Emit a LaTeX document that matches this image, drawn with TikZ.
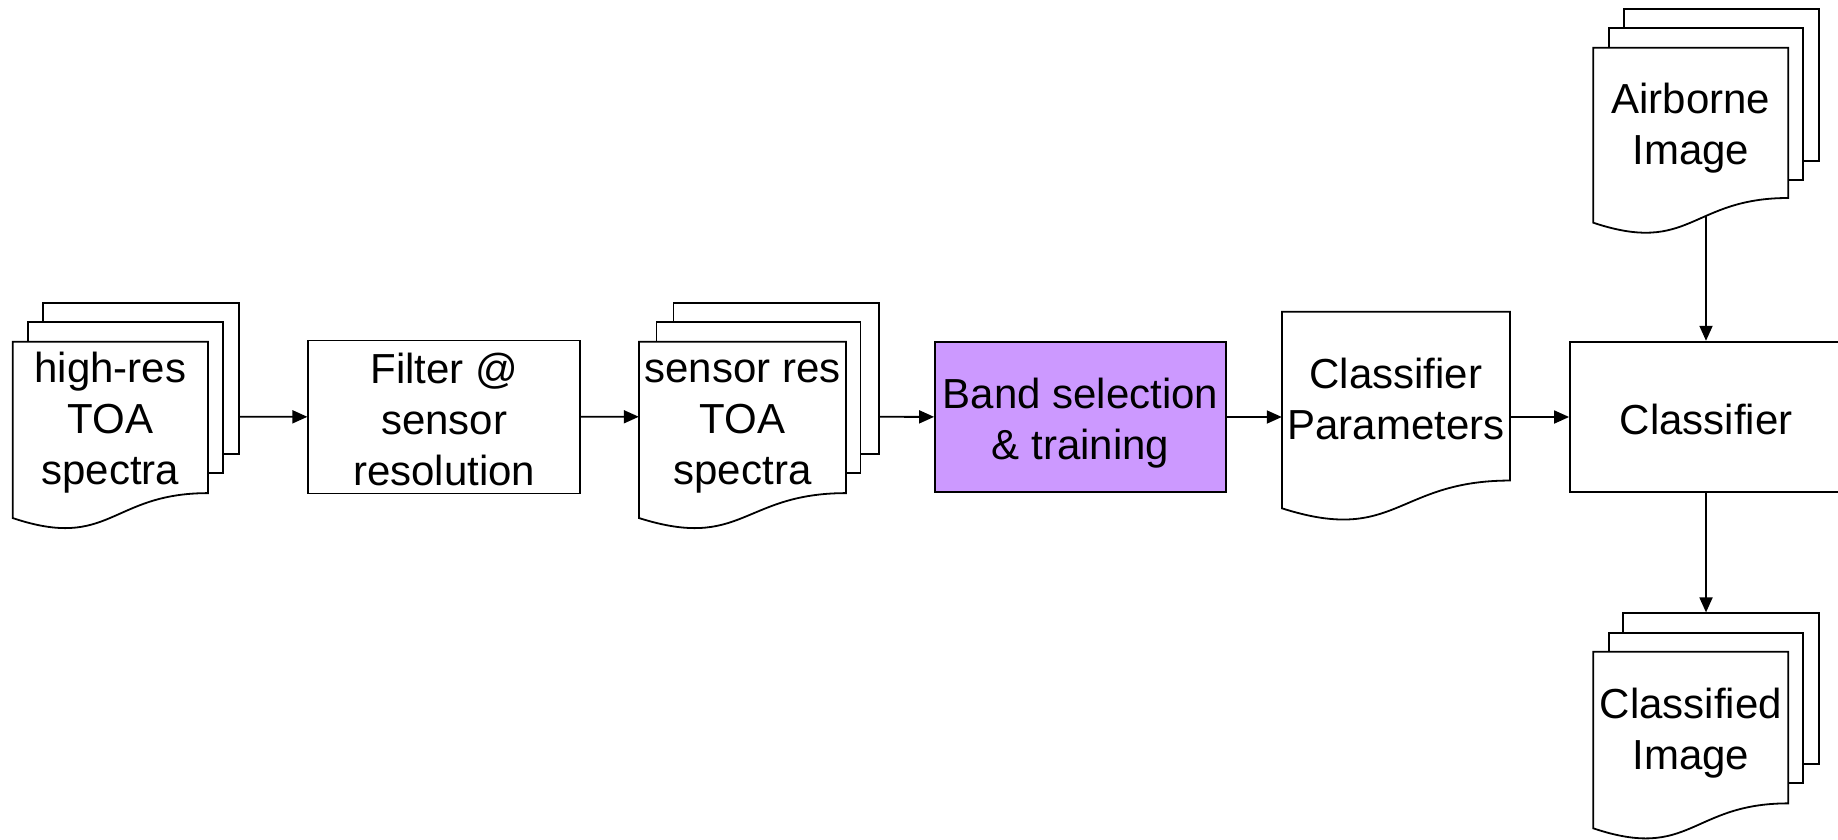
\documentclass[tikz,border=0pt]{standalone}
\usepackage{fontspec}
\setmainfont{Liberation Sans}
\usetikzlibrary{arrows.meta}
\pgfdeclarelayer{links}
\pgfsetlayers{links,main}

\definecolor{bandfill}{HTML}{CC99FF}

% line box of the labels: 51pt per line
\newcommand\linebox{\rule[-8pt]{0pt}{51pt}}

\tikzset{
  labelfont/.style={align=center, font=\fontsize{42}{51}\selectfont,
    execute at end node=\linebox},
  outline/.style={draw=black, line width=1.8pt, fill=white},
  sheet/.style={outline, rectangle, inner sep=0pt},
  box/.style={outline, rectangle, inner sep=0pt, labelfont},
  caption/.style={rectangle, inner sep=0pt, labelfont},
  arr/.style={line width=1.8pt, -{Triangle[length=15pt,width=13pt]}}
}

% front page of a document symbol: left, top, width, height
\newcommand\docfront[4]{%
  \begin{scope}[shift={(#1,#2)}]
    \filldraw[outline] (0,0) -- (#3,0) -- (#3,{0.802*#4})
      .. controls ({0.5*#3},{0.802*#4}) and ({0.5*#3},{1.1075*#4}) .. (0,{0.934*#4}) -- cycle;
  \end{scope}}

\begin{document}
\begin{tikzpicture}[x=1pt, y=-1pt]
\useasboundingbox (0,0) rectangle (1838,840);

% high-res TOA spectra (stack of pages)
\node[sheet, minimum width=195.4pt, minimum height=151pt] (hr3) at (141,378.8) {};
\node[sheet, minimum width=194.4pt, minimum height=150.4pt] (hr2) at (125.5,397.5) {};
\docfront{12.7}{341.7}{195.3}{188.8}
\node[caption, minimum width=195.3pt, minimum height=150pt] (hr) at (110.3,416.7) {\linebox high-res\\TOA\\spectra};

% filter
\node[box, minimum width=271.9pt, minimum height=150.8pt] (flt) at (444.25,416.9) {\linebox Filter @\\sensor\\resolution};

% sensor res TOA spectra (stack of pages)
\node[sheet, minimum width=205.6pt, minimum height=151pt] (sr3) at (776.2,378.8) {};
\node[sheet, minimum width=204pt, minimum height=150.7pt] (sr2) at (758.4,397.65) {};
\docfront{639}{341.7}{207}{188.8}
\node[caption, minimum width=207pt, minimum height=150pt] (sr) at (742.5,416.7) {\linebox sensor res\\TOA\\spectra};

% band selection
\node[box, fill=bandfill, minimum width=291pt, minimum height=150.6pt] (band) at (1080.5,417) {\linebox Band selection\\\& training};

% classifier parameters (single page)
\docfront{1282}{311.8}{228}{210.4}
\node[caption, minimum width=228pt, minimum height=168.7pt] (cp) at (1396,396.2) {\linebox Classifier\\Parameters};

% classifier
\node[box, minimum width=272pt, minimum height=150.6pt] (cls) at (1706,417) {\linebox Classifier};

% airborne image (stack of pages)
\node[sheet, minimum width=195.3pt, minimum height=151.7pt] (air3) at (1721.65,84.85) {};
\node[sheet, minimum width=193.7pt, minimum height=151.7pt] (air2) at (1705.85,104.15) {};
\docfront{1593.3}{47.7}{195}{187.4}
\node[caption, minimum width=195pt, minimum height=150pt] (air) at (1690.8,122.2) {\linebox Airborne\\Image};

% classified image (stack of pages)
\node[sheet, minimum width=196pt, minimum height=150.7pt] (cim3) at (1721.3,688.65) {};
\node[sheet, minimum width=193.7pt, minimum height=150.6pt] (cim2) at (1705.85,708) {};
\docfront{1593.3}{651.7}{195}{189.1}
\node[caption, minimum width=195pt, minimum height=151.6pt] (cim) at (1690.8,726.5) {\linebox Classified\\Image};

% connectors, kept behind the pages
\begin{pgfonlayer}{links}
  \draw[arr] (hr) -- (flt);
  \draw[arr] (flt) -- (sr);
  \draw[arr] (sr) -- (band);
  \draw[arr] (band.east) -- (band.east -| cp.west);
  \draw[arr] (cls.west -| cp.east) -- (cls.west);
  \draw[arr] (cls.north |- air.center) -- (cls.north);
  \draw[arr] (cls.south) -- (cls.south |- cim3.north);
\end{pgfonlayer}
\end{tikzpicture}
\end{document}
